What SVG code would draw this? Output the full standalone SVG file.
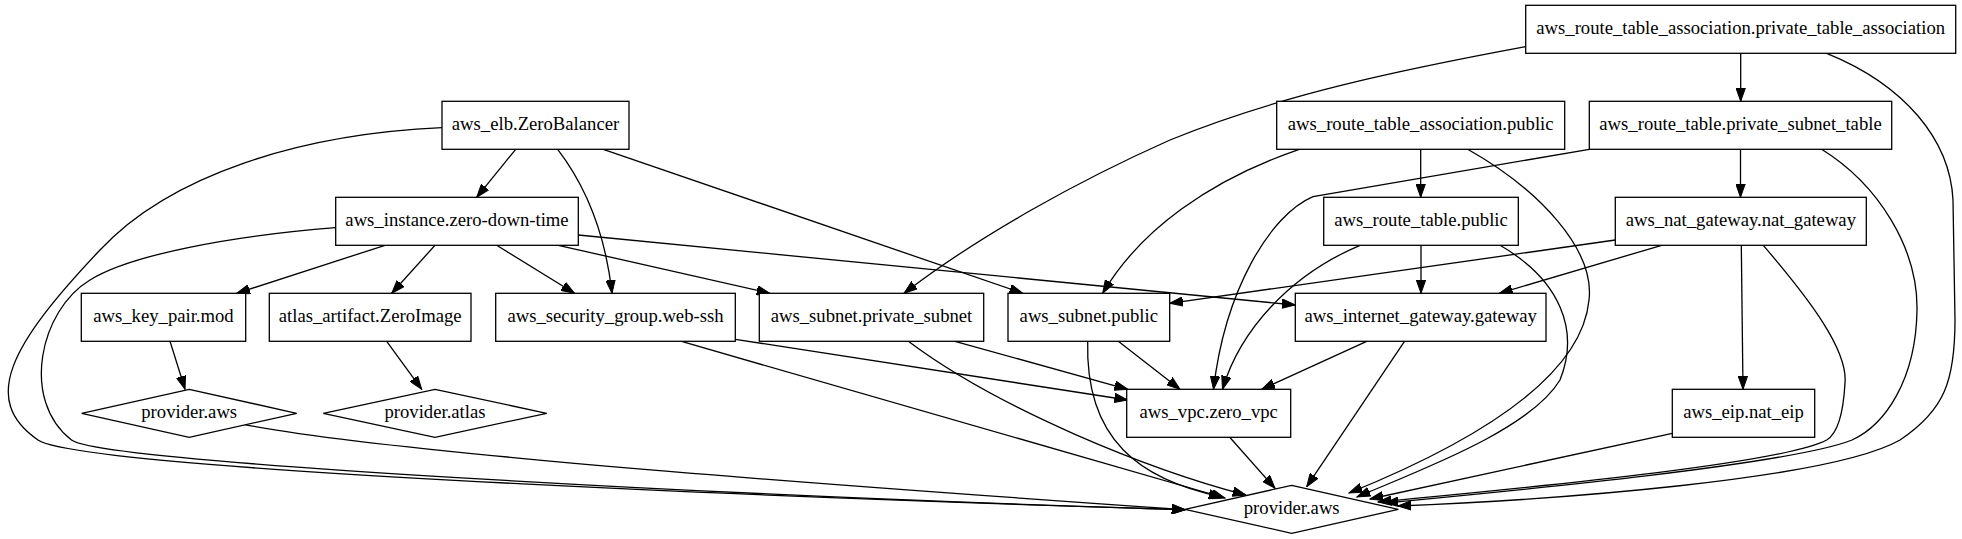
<svg xmlns="http://www.w3.org/2000/svg" width="1962" height="539" viewBox="0 0 1962 539">
<style>
.n rect, .n polygon { fill: #fff; stroke: #000; stroke-width: 1.3; }
.n text { font-family: "Liberation Serif", "Times New Roman", serif; font-size: 18.67px; text-anchor: middle; fill: #000; }
#edges path { fill: none; stroke: #000; stroke-width: 1.3; marker-end: url(#ah); }
</style>
<defs>
<marker id="ah" markerWidth="14" markerHeight="10" refX="13.3" refY="5" orient="auto" markerUnits="userSpaceOnUse">
<path d="M0,0.3 L13.3,5 L0,9.7 z" fill="#000" stroke="#000" stroke-width="1"/>
</marker>
</defs>
<rect width="1962" height="539" fill="#fff"/>
<g id="edges">
<path d="M1740.7,53.3 L1740.7,101.3"/>
<path d="M1525.7,46.7 C1400,70 1280,95 1170,140 C1080,180 980,235 904,293.3"/>
<path d="M1826.7,53.3 C1905,85 1950,140 1953,200 L1955,320 C1955,380 1945,410 1900,440 C1830,480 1550,500 1398,506"/>
<path d="M515.7,149.3 L476.7,197.3"/>
<path d="M557.7,149.3 C585,185 605,230 612,293.3"/>
<path d="M603.3,149.3 L1022.7,293.3"/>
<path d="M442,127.7 C300,134 170,175 100,250 C10,345 -20,400 38,440 C80,468 700,495 1185,509.7"/>
<path d="M1420.7,149.3 L1420.7,197.3"/>
<path d="M1299.3,149.3 C1210,180 1140,230 1102.7,293.3"/>
<path d="M1467.7,149.3 C1540,190 1595,250 1589,300 C1582,375 1480,440 1349,493"/>
<path d="M1740.5,149.3 L1740.5,197.3"/>
<path d="M1589.3,149.3 L1313,196.7 C1270,215 1225,290 1213.5,389.3"/>
<path d="M1820,148.3 C1880,185 1918,250 1917,310 C1916,380 1885,425 1852,440 C1790,465 1500,492 1385,503"/>
<path d="M385,245.3 L236.7,293.3"/>
<path d="M435,245.3 L391.7,293.3"/>
<path d="M496.7,245.3 L574.5,293.3"/>
<path d="M558.3,245.3 L770,293.3"/>
<path d="M578.3,235 L1295.3,305"/>
<path d="M335.7,227.7 C230,236 130,255 90,280 C40,310 20,400 71.5,440 C100,462 700,495 1185,509.7"/>
<path d="M1421,245.3 L1421,293.3"/>
<path d="M1360,245.3 C1290,275 1240,330 1222.5,389.3"/>
<path d="M1500,245.3 C1560,280 1580,330 1560,380 C1530,430 1420,470 1357,497"/>
<path d="M1741.3,245.3 L1743,389.3"/>
<path d="M1615.3,240 L1169.7,303.3"/>
<path d="M1661.7,245.3 L1499.3,293.3"/>
<path d="M1763.3,245.3 C1810,300 1848,350 1845,383 C1843,420 1835,435 1826.7,440 C1780,465 1500,490 1378,502"/>
<path d="M735.3,339.3 L1127.7,400"/>
<path d="M682.4,341.7 L1225,498"/>
<path d="M955,341.3 L1127.7,389.3"/>
<path d="M908.3,341.3 C1000,410 1150,470 1246,495"/>
<path d="M1118.3,341.3 L1180,389.3"/>
<path d="M1087.7,341.3 C1085,440 1140,480 1222,497"/>
<path d="M1368.3,340.7 L1261.7,389.3"/>
<path d="M1405,340.7 L1306.7,486.7"/>
<path d="M170,341.3 L185,389.3"/>
<path d="M386.7,341.3 L421.7,389.3"/>
<path d="M1229.3,436.7 L1275,488.3"/>
<path d="M1672.3,433.3 L1370,499"/>
<path d="M243.3,424.3 C400,455 900,490 1185,509.7"/>
</g>
<g id="pta" class="n"><rect x="1525.7" y="5.3" width="430" height="48"/><text x="1740.7" y="34.3">aws_route_table_association.private_table_association</text></g>
<g id="elb" class="n"><rect x="442" y="101.3" width="187" height="48"/><text x="535.5" y="130.3">aws_elb.ZeroBalancer</text></g>
<g id="rtap" class="n"><rect x="1276.7" y="101.3" width="288" height="48"/><text x="1420.7" y="130.3">aws_route_table_association.public</text></g>
<g id="pst" class="n"><rect x="1589.3" y="101.3" width="302.4" height="48"/><text x="1740.5" y="130.3">aws_route_table.private_subnet_table</text></g>
<g id="instance" class="n"><rect x="335.7" y="197.3" width="242.6" height="48"/><text x="457" y="226.3">aws_instance.zero-down-time</text></g>
<g id="rtp" class="n"><rect x="1323.7" y="197.3" width="194.6" height="48"/><text x="1421" y="226.3">aws_route_table.public</text></g>
<g id="nat" class="n"><rect x="1615.3" y="197.3" width="251" height="48"/><text x="1740.8" y="226.3">aws_nat_gateway.nat_gateway</text></g>
<g id="keypair" class="n"><rect x="81.3" y="293.3" width="164.4" height="48"/><text x="163.5" y="322.3">aws_key_pair.mod</text></g>
<g id="atlas" class="n"><rect x="269.3" y="293.3" width="201.7" height="48"/><text x="370.2" y="322.3">atlas_artifact.ZeroImage</text></g>
<g id="sg" class="n"><rect x="495.7" y="293.3" width="239.6" height="48"/><text x="615.5" y="322.3">aws_security_group.web-ssh</text></g>
<g id="ps" class="n"><rect x="759.3" y="293.3" width="224.4" height="48"/><text x="871.5" y="322.3">aws_subnet.private_subnet</text></g>
<g id="sp" class="n"><rect x="1008" y="293.3" width="161.7" height="48"/><text x="1088.8" y="322.3">aws_subnet.public</text></g>
<g id="ig" class="n"><rect x="1295.3" y="293.3" width="250.7" height="48"/><text x="1420.7" y="322.3">aws_internet_gateway.gateway</text></g>
<g id="provaws1" class="n"><polygon points="189.2,389.3 296.7,413.3 189.2,437.3 81.7,413.3"/><text x="189.2" y="418.3">provider.aws</text></g>
<g id="provatlas" class="n"><polygon points="435,389.3 546.7,413.3 435,437.3 323.3,413.3"/><text x="435" y="418.3">provider.atlas</text></g>
<g id="vpc" class="n"><rect x="1126.7" y="389.3" width="164" height="48"/><text x="1208.7" y="418.3">aws_vpc.zero_vpc</text></g>
<g id="eip" class="n"><rect x="1672.3" y="389.3" width="142.4" height="48"/><text x="1743.5" y="418.3">aws_eip.nat_eip</text></g>
<g id="provaws" class="n"><polygon points="1291.7,485.3 1398.3,509.3 1291.7,533.3 1185,509.3"/><text x="1291.7" y="514.3">provider.aws</text></g>
</svg>
